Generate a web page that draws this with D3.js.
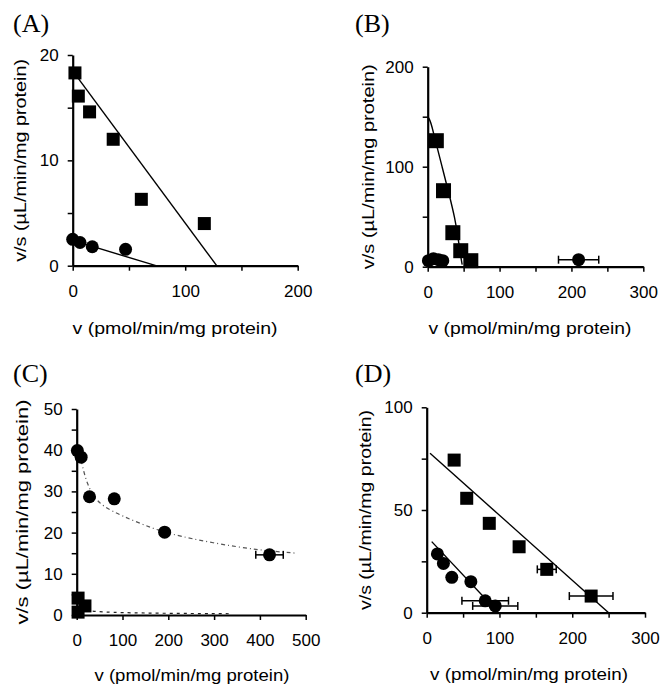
<!DOCTYPE html>
<html>
<head>
<meta charset="utf-8">
<script src="https://cdn.jsdelivr.net/npm/d3@7"></script>
<style>
  body { margin: 0; background: #fff; }
  svg { display: block; }
  .tick text { font-family: "Liberation Sans", Arial, sans-serif; font-size: 17px; fill: #000; }
  .title { font-family: "Liberation Sans", Arial, sans-serif; font-size: 17px; fill: #000; }
  .letter { font-family: "Liberation Serif", "Times New Roman", serif; font-size: 26px; fill: #000; }
</style>
</head>
<body>
<svg width="660" height="687"></svg>
<script>
// Panel A
const aSquareV = [2, 5, 15, 36, 61, 117];
const aSquareVS = [18.3, 16.1, 14.6, 12.0, 6.3, 4.0];
const aCircleV = [0, 6.5, 17.4, 47];
const aCircleVS = [2.5, 2.2, 1.8, 1.55];
const aSquareFit = [[0, 18.5], [128, 0]];
const aCircleFit = [[0, 2.4], [74, 0]];

// Panel B
const bSquareV = [12, 22, 35, 46, 60];
const bSquareVS = [126, 76, 34, 16, 6];
const bCircleV = [1, 8, 15, 21, 210];
const bCircleVS = [6, 8, 7, 6, 7];
const bCircleErr = [0, 0, 0, 0, 28];
const bSquareFit = [[0, 150], [3, 147], [6, 140], [10, 128], [20, 100], [30, 72], [38, 48], [42, 30], [46, 10], [48, 2]];

// Panel C
const cCircleV = [1.4, 9.7, 28, 82, 192, 421];
const cCircleVS = [39.9, 38.3, 28.7, 28.2, 20.1, 14.6];
const cCircleErr = [0, 0, 0, 0, 0, 30];
const cSquareV = [3, 18, 3];
const cSquareVS = [4.1, 2.2, 0.7];
const cCircleFit = [[10, 37.5], [16, 34.5], [23, 32], [35, 29], [57, 26.3], [100, 24], [150, 21.7], [200, 19.7], [300, 17.4], [400, 15.7], [480, 15]];
const cSquareFit = [[20, 1.2], [60, 0.5], [340, 0.3]];

// Panel D
const dSquareV = [37.7, 55, 86, 127, 165, 226];
const dSquareVS = [74.3, 55.7, 43.5, 32.1, 21.1, 8.1];
const dSquareErr = [0, 0, 0, 0, 13, 30];
const dCircleV = [14.7, 23, 34.5, 60.7, 80.4, 94.2];
const dCircleVS = [28.6, 24, 17.2, 15.1, 5.8, 3.3];
const dCircleErr = [0, 0, 0, 0, 32, 31];
const dSquareFit = [[4.6, 77.6], [250, 0]];
const dCircleFit = [[6.9, 34.6], [98.8, 0]];

const xTitle = "v (pmol/min/mg protein)";
const yTitle = "v/s (\u00b5L/min/mg protein)";

const svg = d3.select("svg");

const panels = [
  { letter: "(A)", lx: 13, ly: 32,
    xDom: [0, 200], xRange: [72.7, 297.7], xTicks: d3.range(0, 201, 50), xLabels: [0, 100, 200],
    yDom: [0, 20], yRange: [265.7, 55], yTicks: d3.range(0, 21, 5), yLabels: [0, 10, 20],
    xTitleX: 175, xTitleY: 334, xTitleLen: 205, yTitleX: 20, yTitleLen: 203,
    squares: { v: aSquareV, vs: aSquareVS }, circles: { v: aCircleV, vs: aCircleVS },
    fits: [{ pts: aSquareFit }, { pts: aCircleFit }] },
  { letter: "(B)", lx: 355, ly: 32,
    xDom: [0, 300], xRange: [427.7, 643.3], xTicks: d3.range(0, 301, 50), xLabels: [0, 100, 200, 300],
    yDom: [0, 200], yRange: [266.7, 66.7], yTicks: d3.range(0, 201, 50), yLabels: [0, 100, 200],
    xTitleX: 530, xTitleY: 334, xTitleLen: 203, yTitleX: 368, yTitleLen: 205, sqSize: 15,
    squares: { v: bSquareV, vs: bSquareVS }, circles: { v: bCircleV, vs: bCircleVS, err: bCircleErr },
    fits: [{ pts: bSquareFit, curve: d3.curveBasis }] },
  { letter: "(C)", lx: 13, ly: 382,
    xDom: [0, 500], xRange: [76.7, 305.7], xTicks: d3.range(0, 501, 100), xLabels: [0, 100, 200, 300, 400, 500],
    yDom: [0, 50], yRange: [615, 409], yTicks: d3.range(0, 51, 5), yLabels: [0, 10, 20, 30, 40, 50],
    xTitleX: 192, xTitleY: 681, xTitleLen: 195, yTitleX: 22, yTitleLen: 225,
    squares: { v: cSquareV, vs: cSquareVS }, circles: { v: cCircleV, vs: cCircleVS, err: cCircleErr },
    fits: [{ pts: cCircleFit, curve: d3.curveBasis, dash: "4,3,1,3", color: "#555" },
           { pts: cSquareFit, curve: d3.curveBasis, dash: "3,4", color: "#222" }] },
  { letter: "(D)", lx: 355, ly: 382,
    xDom: [0, 300], xRange: [426.7, 645], xTicks: d3.range(0, 301, 50), xLabels: [0, 100, 200, 300],
    yDom: [0, 100], yRange: [612.7, 407.3], yTicks: d3.range(0, 101, 25), yLabels: [0, 50, 100],
    xTitleX: 529, xTitleY: 680, xTitleLen: 198, yTitleX: 365, yTitleLen: 200,
    squares: { v: dSquareV, vs: dSquareVS, err: dSquareErr }, circles: { v: dCircleV, vs: dCircleVS, err: dCircleErr },
    fits: [{ pts: dSquareFit }, { pts: dCircleFit }] }
];

panels.forEach(p => {
  const x = d3.scaleLinear().domain(p.xDom).range(p.xRange);
  const y = d3.scaleLinear().domain(p.yDom).range(p.yRange);
  const g = svg.append("g");

  // panel letter
  g.append("text").attr("class", "letter").attr("x", p.lx).attr("y", p.ly).text(p.letter);

  // axes
  const xAxis = d3.axisBottom(x).tickValues(p.xTicks).tickSize(5).tickSizeOuter(0).tickPadding(14)
    .tickFormat(d => p.xLabels.includes(d) ? d : "");
  const yAxis = d3.axisLeft(y).tickValues(p.yTicks).tickSize(5).tickSizeOuter(0).tickPadding(9)
    .tickFormat(d => p.yLabels.includes(d) ? d : "");

  const gx = g.append("g").attr("transform", `translate(0,${p.yRange[0]})`).call(xAxis);
  const gy = g.append("g").attr("transform", `translate(${p.xRange[0]},0)`).call(yAxis);
  [gx, gy].forEach(a => {
    a.select(".domain").attr("stroke", "#000").attr("stroke-width", 2.2);
    a.selectAll(".tick line").attr("stroke", "#000").attr("stroke-width", 1.5);
  });

  // axis titles
  g.append("text").attr("class", "title")
    .attr("x", p.xTitleX).attr("y", p.xTitleY)
    .attr("text-anchor", "middle")
    .attr("textLength", p.xTitleLen).attr("lengthAdjust", "spacingAndGlyphs")
    .text(xTitle);
  const yMid = (p.yRange[0] + p.yRange[1]) / 2;
  g.append("text").attr("class", "title")
    .attr("transform", `translate(${p.yTitleX},${yMid}) rotate(-90)`)
    .attr("text-anchor", "middle").attr("dy", "0.35em")
    .attr("textLength", p.yTitleLen).attr("lengthAdjust", "spacingAndGlyphs")
    .text(yTitle);

  // fitted lines
  p.fits.forEach(f => {
    const line = d3.line().x(d => x(d[0])).y(d => y(d[1])).curve(f.curve || d3.curveLinear);
    g.append("path").attr("d", line(f.pts))
      .attr("fill", "none")
      .attr("stroke", f.color || "#000")
      .attr("stroke-width", f.dash ? 1.2 : 1.4)
      .attr("stroke-dasharray", f.dash || null);
  });

  // error bars
  const drawErr = (set) => {
    if (!set.err) return;
    set.v.forEach((v, i) => {
      const e = set.err[i];
      if (!e) return;
      const yy = y(set.vs[i]);
      g.append("line").attr("x1", x(v - e)).attr("x2", x(v + e)).attr("y1", yy).attr("y2", yy)
        .attr("stroke", "#000").attr("stroke-width", 1.5);
      [v - e, v + e].forEach(c => {
        g.append("line").attr("x1", x(c)).attr("x2", x(c)).attr("y1", yy - 4).attr("y2", yy + 4)
          .attr("stroke", "#000").attr("stroke-width", 1.5);
      });
    });
  };
  drawErr(p.squares);
  drawErr(p.circles);

  // squares
  const s = p.sqSize || 13;
  g.selectAll(null).data(p.squares.v.map((v, i) => [v, p.squares.vs[i]])).enter()
    .append("rect")
    .attr("x", d => x(d[0]) - s / 2).attr("y", d => y(d[1]) - s / 2)
    .attr("width", s).attr("height", s).attr("fill", "#000");

  // circles
  g.selectAll(null).data(p.circles.v.map((v, i) => [v, p.circles.vs[i]])).enter()
    .append("circle")
    .attr("cx", d => x(d[0])).attr("cy", d => y(d[1]))
    .attr("r", 6.5).attr("fill", "#000");
});
</script>
</body>
</html>
